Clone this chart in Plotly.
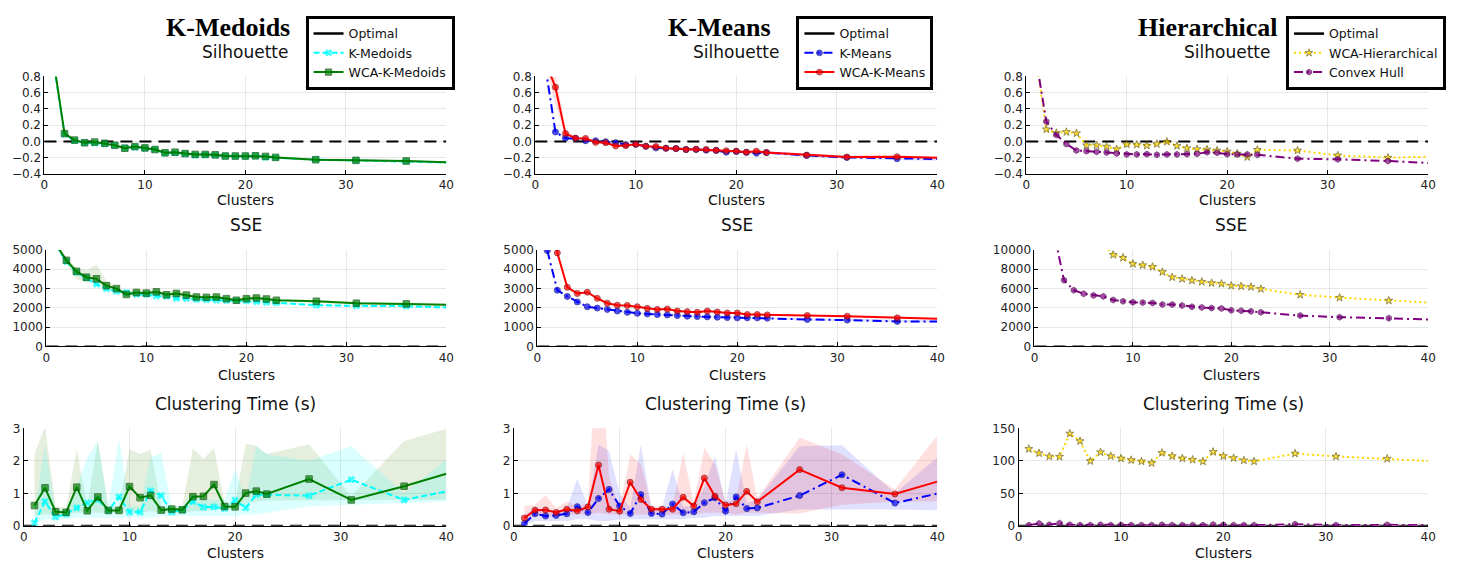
import plotly.graph_objects as go

PAGE_W, PAGE_H = 1464, 572
OFF = 8                      # default page margin around the figure
W, H = PAGE_W - 2 * OFF, PAGE_H - 2 * OFF

# ---------------- data ----------------
clusters = [1, 2, 3, 4, 5, 6, 7, 8, 9, 10, 11, 12, 13, 14, 15, 16, 17, 18, 19, 20, 21, 22, 23, 27, 31, 36, 40]
optimal_x = [0, 40]
optimal_y = [0, 0]

# K-Medoids column
kmed_sil = [0.90, 0.09, 0.01, -0.02, -0.02, -0.03, -0.05, -0.08, -0.07, -0.085, -0.10, -0.145, -0.14, -0.155, -0.17, -0.165, -0.17, -0.18, -0.185, -0.185, -0.18, -0.195, -0.20, -0.225, -0.235, -0.245, -0.26]
kmed_sil_sd = [0.03, 0.02, 0.015, 0.015, 0.015, 0.015, 0.015, 0.015, 0.015, 0.015, 0.015, 0.02, 0.02, 0.025, 0.03, 0.04, 0.03, 0.02, 0.02, 0.02, 0.02, 0.02, 0.015, 0.01, 0.01, 0.01, 0.01]
wkmed_sil = [0.92, 0.096, 0.016, -0.016, -0.008, -0.024, -0.048, -0.084, -0.064, -0.08, -0.10, -0.14, -0.133, -0.149, -0.16, -0.16, -0.165, -0.18, -0.18, -0.18, -0.177, -0.185, -0.197, -0.225, -0.233, -0.241, -0.257]
wkmed_sil_sd = [0.03, 0.02, 0.015, 0.015, 0.015, 0.015, 0.015, 0.015, 0.015, 0.015, 0.015, 0.015, 0.015, 0.02, 0.02, 0.03, 0.025, 0.02, 0.015, 0.015, 0.015, 0.015, 0.015, 0.012, 0.01, 0.01, 0.01]

kmed_sse = [5200, 4400, 3850, 3550, 3232, 2990, 2862, 2795, 2700, 2694, 2609, 2600, 2492, 2480, 2430, 2420, 2400, 2380, 2380, 2360, 2320, 2290, 2260, 2138, 2104, 2087, 2020]
kmed_sse_lo = [5100, 4300, 3700, 3450, 3150, 2900, 2780, 2720, 2620, 2620, 2540, 2530, 2430, 2420, 2370, 2360, 2340, 2320, 2320, 2300, 2260, 2230, 2200, 2090, 2060, 2040, 1980]
kmed_sse_hi = [5300, 4500, 4000, 3650, 3320, 3080, 2950, 2870, 2780, 2770, 2680, 2670, 2560, 2540, 2490, 2480, 2460, 2440, 2440, 2420, 2380, 2350, 2320, 2190, 2150, 2130, 2060]
wkmed_sse = [5250, 4461, 3889, 3586, 3502, 3148, 2997, 2694, 2795, 2761, 2828, 2677, 2744, 2660, 2559, 2542, 2559, 2475, 2391, 2475, 2508, 2458, 2391, 2340, 2239, 2205, 2155]
wkmed_sse_lo = [5100, 4300, 3500, 3300, 3300, 3000, 2850, 2600, 2550, 2600, 2650, 2550, 2550, 2550, 2450, 2450, 2450, 2400, 2300, 2350, 2400, 2350, 2300, 2250, 2170, 2150, 2100]
wkmed_sse_hi = [5400, 4600, 4100, 3950, 4250, 3400, 3100, 2800, 3000, 2900, 2950, 2800, 2950, 2750, 2650, 2600, 2620, 2550, 2480, 2600, 2650, 2520, 2450, 2400, 2300, 2250, 2200]

kmed_time = [0.09, 0.745, 0.272, 0.36, 0.554, 0.705, 0.806, 0.473, 0.886, 0.423, 0.423, 1.077, 0.926, 0.423, 0.483, 0.745, 0.574, 0.584, 0.534, 0.785, 0.554, 0.957, 0.957, 0.926, 1.42, 0.796, 1.057]
kmed_time_lo = [0.05, 0.2, 0.2, 0.2, 0.25, 0.25, 0.25, 0.25, 0.25, 0.25, 0.25, 0.25, 0.3, 0.3, 0.3, 0.3, 0.3, 0.3, 0.3, 0.3, 0.35, 0.35, 0.4, 0.6, 0.65, 0.7, 0.75]
kmed_time_hi = [0.4, 2.5, 0.5, 0.5, 1.2, 2.1, 2.6, 0.6, 2.7, 0.6, 0.6, 2.1, 2.25, 0.6, 0.6, 1.0, 0.8, 0.8, 0.8, 1.75, 0.8, 2.45, 2.2, 2.0, 2.45, 1.0, 2.05]
wkmed_time = [0.624, 1.168, 0.433, 0.413, 1.188, 0.463, 0.886, 0.473, 0.473, 1.208, 0.866, 0.937, 0.483, 0.514, 0.493, 0.896, 0.906, 1.269, 0.594, 0.584, 1.007, 1.067, 0.977, 1.44, 0.796, 1.218, 1.601]
wkmed_time_lo = [0.3, 0.35, 0.35, 0.35, 0.4, 0.4, 0.4, 0.4, 0.4, 0.4, 0.4, 0.45, 0.4, 0.4, 0.4, 0.45, 0.45, 0.5, 0.5, 0.5, 0.7, 0.75, 0.78, 0.8, 0.78, 0.8, 0.8]
wkmed_time_hi = [2.21, 3.06, 0.6, 0.55, 2.36, 0.6, 2.61, 0.6, 0.6, 2.36, 2.21, 2.34, 0.6, 0.6, 0.6, 2.38, 2.06, 2.39, 0.7, 0.7, 2.53, 2.46, 2.21, 2.51, 0.91, 2.61, 2.99]

# K-Means column
km_sil = [0.92, 0.116, 0.04, 0.036, 0.008, 0.008, -0.004, -0.016, -0.04, -0.036, -0.06, -0.08, -0.084, -0.088, -0.10, -0.10, -0.108, -0.112, -0.133, -0.125, -0.135, -0.145, -0.137, -0.173, -0.197, -0.213, -0.217]
km_sil_sd = [0.03, 0.02, 0.015, 0.015, 0.015, 0.015, 0.015, 0.015, 0.015, 0.015, 0.015, 0.015, 0.015, 0.015, 0.015, 0.015, 0.015, 0.015, 0.015, 0.015, 0.015, 0.015, 0.015, 0.02, 0.02, 0.02, 0.02]
wkm_sil = [0.98, 0.667, 0.096, 0.04, 0.036, -0.012, -0.016, -0.056, -0.052, -0.036, -0.06, -0.064, -0.084, -0.088, -0.10, -0.096, -0.10, -0.108, -0.116, -0.12, -0.133, -0.12, -0.137, -0.169, -0.193, -0.189, -0.20]
wkm_sil_sd = [0.05, 0.2, 0.05, 0.02, 0.015, 0.015, 0.015, 0.015, 0.015, 0.015, 0.015, 0.015, 0.015, 0.015, 0.015, 0.015, 0.015, 0.015, 0.015, 0.015, 0.015, 0.015, 0.015, 0.015, 0.015, 0.015, 0.015]

km_sse = [4966, 2912, 2593, 2306, 2054, 1987, 1919, 1835, 1768, 1717, 1684, 1650, 1633, 1599, 1566, 1549, 1532, 1515, 1498, 1481, 1481, 1481, 1465, 1397, 1364, 1296, 1296]
km_sse_sd = [60, 50, 50, 50, 40, 40, 40, 40, 40, 40, 40, 40, 40, 40, 40, 40, 40, 40, 40, 40, 40, 40, 40, 60, 60, 60, 60]
wkm_sse = [20000, 4848, 3064, 2744, 2811, 2492, 2239, 2138, 2121, 2054, 1970, 1919, 1936, 1835, 1801, 1768, 1835, 1785, 1734, 1734, 1650, 1650, 1633, 1599, 1566, 1481, 1431]
wkm_sse_sd = [200, 60, 50, 50, 50, 40, 40, 40, 40, 40, 40, 40, 40, 40, 40, 40, 50, 50, 40, 40, 40, 40, 40, 40, 40, 40, 40]

km_time = [0.07, 0.37, 0.30, 0.32, 0.37, 0.59, 0.41, 0.84, 1.12, 0.61, 0.38, 0.96, 0.38, 0.36, 0.67, 0.40, 0.43, 0.71, 0.86, 0.45, 0.89, 0.53, 0.55, 0.93, 1.57, 0.70, 0.99]
km_time_lo = [0.02, 0.15, 0.15, 0.15, 0.15, 0.2, 0.2, 0.15, 0.15, 0.2, 0.2, 0.2, 0.2, 0.2, 0.2, 0.2, 0.25, 0.25, 0.3, 0.3, 0.3, 0.3, 0.3, 0.5, 0.5, 0.5, 0.48]
km_time_hi = [0.3, 0.6, 0.45, 0.45, 0.55, 1.45, 0.6, 2.5, 2.3, 1.0, 0.55, 2.5, 0.55, 0.55, 1.75, 0.6, 0.6, 1.2, 2.15, 0.7, 2.35, 0.7, 0.8, 2.45, 2.48, 1.0, 2.1]
wkm_time = [0.24, 0.48, 0.49, 0.41, 0.51, 0.46, 0.58, 1.87, 0.51, 0.45, 1.34, 0.81, 0.51, 0.51, 0.51, 0.88, 0.61, 1.47, 0.91, 0.64, 0.68, 1.06, 0.74, 1.73, 1.17, 0.98, 1.36]
wkm_time_lo = [0.15, 0.3, 0.3, 0.3, 0.35, 0.35, 0.35, 0.4, 0.35, 0.35, 0.35, 0.35, 0.35, 0.35, 0.35, 0.35, 0.35, 0.4, 0.4, 0.4, 0.35, 0.4, 0.4, 0.38, 0.65, 0.75, 0.75]
wkm_time_hi = [0.6, 0.65, 0.95, 0.55, 0.75, 0.6, 0.7, 6.5, 1.5, 0.55, 2.2, 1.9, 0.6, 0.6, 0.6, 2.25, 0.7, 2.4, 1.9, 0.75, 0.8, 2.5, 0.85, 2.72, 2.2, 1.12, 2.78]

# Hierarchical column
wh_sil = [1.0, 0.149, 0.104, 0.116, 0.10, -0.048, -0.048, -0.064, -0.096, -0.036, -0.04, -0.052, -0.032, -0.004, -0.056, -0.084, -0.096, -0.10, -0.112, -0.125, -0.15, -0.193, -0.104, -0.112, -0.173, -0.20, -0.189]
ch_sil = [1.0, 0.245, 0.08, -0.032, -0.112, -0.12, -0.128, -0.137, -0.149, -0.16, -0.16, -0.157, -0.165, -0.16, -0.16, -0.157, -0.153, -0.133, -0.14, -0.157, -0.16, -0.16, -0.165, -0.213, -0.221, -0.241, -0.265]
wh_sse = [30000, 20000, 16000, 14000, 12500, 11500, 10643, 9495, 9192, 8552, 8418, 8249, 7710, 7172, 7003, 6835, 6700, 6566, 6498, 6296, 6229, 6162, 5960, 5354, 5051, 4747, 4545]
ch_sse = [25000, 11686, 6869, 5825, 5455, 5286, 5185, 4815, 4680, 4579, 4545, 4512, 4343, 4343, 4242, 4108, 4040, 3973, 3939, 3737, 3704, 3636, 3535, 3199, 3030, 2929, 2795]
wh_time = [118.3, 111.7, 106.7, 106.2, 141.9, 130.3, 99.6, 113.2, 107.2, 103.7, 101.2, 99.1, 96.6, 112.2, 107.2, 103.7, 101.7, 99.1, 113.7, 107.2, 104.2, 100.7, 99.1, 111.2, 106.7, 103.2, 99.6]
ch_time = [1.0, 3.5, 1.5, 4.0, 1.5, 1.0, 1.0, 1.5, 1.0, 1.2, 1.0, 1.0, 1.0, 1.5, 1.0, 1.0, 1.0, 1.0, 2.0, 1.5, 1.0, 1.0, 1.0, 2.5, 1.0, 1.5, 1.0]

col_titles = ["K-Medoids", "K-Means", "Hierarchical"]
row_titles = ["Silhouette", "SSE", "Clustering Time (s)"]
x_label = "Clusters"

# ---------------- layout geometry (page pixels) ----------------
rows_px = [(71, 171), (249, 348), (432, 532)]
cols_px = [
    [(40.7, 446), (42.7, 446), (20, 446)],
    [(535.7, 941), (537.7, 941), (514, 941)],
    [(1030.7, 1436), (1039, 1436), (1023, 1436)],
]
yranges = [
    [(-0.4, 0.8, 0.2), (0, 5000, 1000), (0, 3, 1)],
    [(-0.4, 0.8, 0.2), (0, 5000, 1000), (0, 3, 1)],
    [(-0.4, 0.8, 0.2), (0, 10000, 2000), (0, 150, 50)],
]
yfmt = [".1f", "d", "d"]


def px(x):
    return (x - OFF) / W


def py(y):
    return 1 - (y - OFF) / H


FONT = "DejaVu Sans"
fig = go.Figure()


def axis_ids(c, r):
    i = r * 3 + c + 1
    return ("x" if i == 1 else f"x{i}"), ("y" if i == 1 else f"y{i}"), i


layout_axes = {}
for c in range(3):
    for r in range(3):
        xa, ya, i = axis_ids(c, r)
        x0, x1 = cols_px[c][r]
        top, bot = rows_px[r]
        lo, hi, dt = yranges[c][r]
        common = dict(showline=True, linecolor="black", linewidth=1, mirror=False,
                      ticks="inside", ticklen=4, tickcolor="black", tickwidth=1,
                      showgrid=True, gridcolor="rgba(0,0,0,0.09)", gridwidth=1,
                      zeroline=False, tickfont=dict(family=FONT, size=12, color="#222"))
        layout_axes["xaxis" if i == 1 else f"xaxis{i}"] = dict(
            domain=[px(x0), px(x1)], anchor=ya, range=[0, 40], dtick=10, tick0=0, **common)
        layout_axes["yaxis" if i == 1 else f"yaxis{i}"] = dict(
            domain=[py(bot), py(top)], anchor=xa, range=[lo, hi], dtick=dt, tick0=lo,
            tickformat=yfmt[r], **common)
fig.update_layout(**layout_axes)


def ribbon(c, r, lo, hi, color):
    xa, ya, _ = axis_ids(c, r)
    fig.add_trace(go.Scatter(x=clusters + clusters[::-1], y=list(hi) + list(lo)[::-1],
                             fill="toself", fillcolor=color, line=dict(width=0),
                             mode="lines", hoverinfo="skip", showlegend=False,
                             xaxis=xa, yaxis=ya))


def sd_band(mean, sd):
    return [m - s for m, s in zip(mean, sd)], [m + s for m, s in zip(mean, sd)]


def optimal(c, r):
    xa, ya, _ = axis_ids(c, r)
    fig.add_trace(go.Scatter(x=optimal_x, y=optimal_y, mode="lines",
                             line=dict(color="black", width=2, dash="12px,7px"),
                             showlegend=False, hoverinfo="skip", xaxis=xa, yaxis=ya))


def series(c, r, y, name, color, dash, symbol, size, outline, show, legend):
    xa, ya, _ = axis_ids(c, r)
    sizes = [size] * (len(y) - 1) + [0]
    fig.add_trace(go.Scatter(x=clusters, y=y, mode="lines+markers", name=name,
                             line=dict(color=color, width=2, dash=dash),
                             marker=dict(symbol=symbol, size=sizes, color=color,
                                         line=dict(color=outline, width=1)),
                             showlegend=show, legend=legend, xaxis=xa, yaxis=ya))


CYAN, GREEN = "#00FFFF", "#008000"
BLUE, RED = "#0000FF", "#FF0000"
GOLD, PURPLE = "#FFD700", "#800080"
CYAN_F, GREEN_F = "rgba(0,255,255,0.14)", "rgba(60,128,0,0.13)"
BLUE_F, RED_F = "rgba(0,0,255,0.12)", "rgba(255,0,0,0.12)"

DASH_CYAN = "6px,3px"
DASH_DOT = "9px,4px,2px,4px"
DOT = "2px,3px"

legends = ["legend", "legend2", "legend3"]

for c in range(3):
    xa, ya, _ = axis_ids(c, 0)
    fig.add_trace(go.Scatter(x=[None], y=[None], mode="lines", name="Optimal",
                             line=dict(color="black", width=2.5),
                             legend=legends[c], xaxis=xa, yaxis=ya))

metrics_kmed = [
    (kmed_sil, sd_band(kmed_sil, kmed_sil_sd), wkmed_sil, sd_band(wkmed_sil, wkmed_sil_sd)),
    (kmed_sse, (kmed_sse_lo, kmed_sse_hi), wkmed_sse, (wkmed_sse_lo, wkmed_sse_hi)),
    (kmed_time, (kmed_time_lo, kmed_time_hi), wkmed_time, (wkmed_time_lo, wkmed_time_hi)),
]
for r, (a, aband, b, bband) in enumerate(metrics_kmed):
    ribbon(0, r, bband[0], bband[1], GREEN_F)
    ribbon(0, r, aband[0], aband[1], CYAN_F)
    optimal(0, r)
    series(0, r, a, "K-Medoids", CYAN, DASH_CYAN, "x", 6, CYAN, r == 0, "legend")
    series(0, r, b, "WCA-K-Medoids", GREEN, "solid", "square", 6.5, "#004d00", r == 0, "legend")

metrics_km = [
    (km_sil, sd_band(km_sil, km_sil_sd), wkm_sil, sd_band(wkm_sil, wkm_sil_sd)),
    (km_sse, sd_band(km_sse, km_sse_sd), wkm_sse, sd_band(wkm_sse, wkm_sse_sd)),
    (km_time, (km_time_lo, km_time_hi), wkm_time, (wkm_time_lo, wkm_time_hi)),
]
for r, (a, aband, b, bband) in enumerate(metrics_km):
    ribbon(1, r, aband[0], aband[1], BLUE_F)
    ribbon(1, r, bband[0], bband[1], RED_F)
    optimal(1, r)
    series(1, r, a, "K-Means", BLUE, DASH_DOT, "circle", 6, "#00008b", r == 0, "legend2")
    series(1, r, b, "WCA-K-Means", RED, "solid", "circle", 6, "#8b0000", r == 0, "legend2")

metrics_h = [(wh_sil, ch_sil), (wh_sse, ch_sse), (wh_time, ch_time)]
for r, (a, b) in enumerate(metrics_h):
    optimal(2, r)
    series(2, r, a, "WCA-Hierarchical", GOLD, DOT, "star", 6, "#6b5a00", r == 0, "legend3")
    series(2, r, b, "Convex Hull", PURPLE, DASH_DOT, "hexagon", 6, "#4b004b", r == 0, "legend3")

ann = []
title_cx = [226, 721, 1214]
title_y = [46, 223, 407]
xlab_y = [198, 377, 560]
for c in range(3):
    ann.append(dict(text=f"<b>{col_titles[c]}</b>", x=px(title_cx[c]), y=py(21),
                    xref="paper", yref="paper", xanchor="center", yanchor="middle",
                    showarrow=False, font=dict(family="Liberation Serif", size=26, color="black")))
    for r in range(3):
        x0, x1 = cols_px[c][r]
        cx = (x0 + x1) / 2
        ann.append(dict(text=row_titles[r], x=px(cx), y=py(title_y[r]),
                        xref="paper", yref="paper", xanchor="center", yanchor="middle",
                        showarrow=False, font=dict(family=FONT, size=17, color="#111")))
        ann.append(dict(text=x_label, x=px(cx), y=py(xlab_y[r]),
                        xref="paper", yref="paper", xanchor="center", yanchor="middle",
                        showarrow=False, font=dict(family=FONT, size=14, color="#111")))

leg_common = dict(bgcolor="white", bordercolor="black", borderwidth=3,
                  font=dict(family=FONT, size=12.5, color="#111"),
                  yanchor="top", itemwidth=30, tracegroupgap=0,
                  traceorder="normal")
fig.update_layout(
    width=W, height=H, margin=dict(l=0, r=0, t=0, b=0),
    paper_bgcolor="white", plot_bgcolor="white",
    annotations=ann,
    legend=dict(x=px(304), xanchor="left", y=py(9), **leg_common),
    legend2=dict(x=px(799), xanchor="left", y=py(9), **leg_common),
    legend3=dict(x=px(1454), xanchor="right", y=py(9), **leg_common),
)

fig.write_html("out.html", config={"displayModeBar": False})
